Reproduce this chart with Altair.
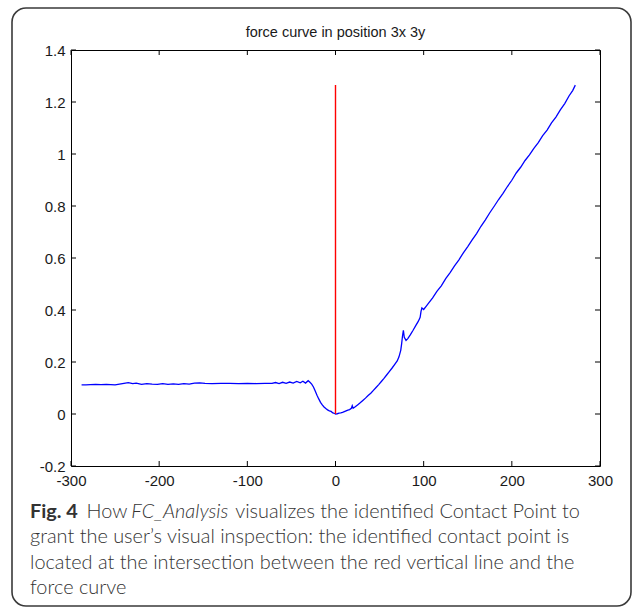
import altair as alt
import pandas as pd

# ---- data ----
curve_x = [-288, -283, -278, -272, -266, -260, -255, -250, -245, -240, -235, -230, -226,
           -220, -214, -208, -202, -196, -190, -184, -178, -172, -166, -160, -154, -148,
           -140, -130, -120, -110, -100, -90, -80, -72, -68, -64, -60, -56, -52, -48, -44,
           -40, -37, -34, -31, -29, -27, -25, -23, -21, -19, -17, -15, -13, -11, -9, -7,
           -5, -3, -1, 0, 2, 4, 6, 8, 10, 12, 14, 16, 18, 19, 20, 22, 25, 28, 31, 34, 37,
           40, 43, 46, 49, 52, 55, 58, 61, 64, 67, 70, 72, 74, 75, 76, 77, 78, 80, 82, 85,
           88, 91, 94, 96, 97, 98, 100, 103, 106, 110, 115, 120, 125, 130, 135, 140, 145,
           150, 155, 160, 165, 170, 175, 180, 185, 190, 195, 200, 205, 210, 215, 220, 225,
           230, 235, 240, 245, 250, 255, 260, 265, 269, 272]
curve_y = [0.112, 0.112, 0.113, 0.114, 0.113, 0.114, 0.113, 0.112, 0.115, 0.118, 0.121, 0.117, 0.119,
           0.114, 0.117, 0.115, 0.114, 0.117, 0.114, 0.116, 0.114, 0.117, 0.115, 0.119, 0.120, 0.118,
           0.117, 0.118, 0.118, 0.117, 0.118, 0.117, 0.118, 0.118, 0.121, 0.117, 0.122, 0.118, 0.123, 0.119, 0.125,
           0.120, 0.126, 0.119, 0.128, 0.122, 0.115, 0.104, 0.088, 0.072, 0.058, 0.045, 0.035, 0.027, 0.021, 0.016, 0.012,
           0.010, 0.004, 0.002, 0.000, 0.001, 0.003, 0.004, 0.006, 0.009, 0.012, 0.015, 0.017, 0.022, 0.032, 0.022, 0.027, 0.035, 0.043, 0.052, 0.061, 0.071,
           0.080, 0.091, 0.102, 0.113, 0.125, 0.137, 0.150, 0.163, 0.176, 0.190, 0.204, 0.220, 0.245, 0.270, 0.300, 0.322, 0.295, 0.283, 0.290, 0.305,
           0.322, 0.340, 0.357, 0.372, 0.395, 0.408, 0.402, 0.415, 0.428, 0.446, 0.472, 0.493, 0.521, 0.544, 0.570, 0.593, 0.620,
           0.644, 0.670, 0.694, 0.722, 0.747, 0.774, 0.799, 0.825, 0.849, 0.875, 0.899, 0.927, 0.949, 0.975, 0.997, 1.022,
           1.044, 1.071, 1.092, 1.120, 1.142, 1.170, 1.194, 1.224, 1.244, 1.265]

contact_x = [0]
contact_y_low = [0.0]
contact_y_high = [1.265]

x_ticks = [-300, -200, -100, 0, 100, 200, 300]
y_ticks = [-0.2, 0, 0.2, 0.4, 0.6, 0.8, 1.0, 1.2, 1.4]

title_text = ["force curve in position 3x 3y"]
cap_bold = ["Fig. 4"]
cap_how = ["How"]
cap_italic = ["FC_Analysis"]
cap_rest1 = ["visualizes the identified Contact Point to"]
cap_lines = ["grant the user\u2019s visual inspection: the identified contact point is",
             "located at the intersection between the red vertical line and the",
             "force curve"]

W, H = 529, 416
LEFT, TOP = 71, 50

curve_df = pd.DataFrame({"x": curve_x, "y": curve_y})
red_df = pd.DataFrame({"x": contact_x, "y0": contact_y_low, "y1": contact_y_high})
xt_df = pd.DataFrame({"v": x_ticks})
yt_df = pd.DataFrame({"v": y_ticks})

xscale = alt.Scale(domain=[-300, 300], nice=False, zero=False)
yscale = alt.Scale(domain=[-0.2, 1.4], nice=False, zero=False)

lab_font = "Liberation Sans"
lab_size = 15
x_axis = alt.Axis(values=x_ticks, title=None, ticks=False, domain=False, grid=False,
                  labelFont=lab_font, labelFontSize=lab_size, labelColor="#1a1a1a",
                  labelPadding=7, labelExpr="datum.value + ''", labelFlush=False, labelOverlap=False)
y_axis = alt.Axis(values=y_ticks, title=None, ticks=False, domain=False, grid=False,
                  labelFont=lab_font, labelFontSize=lab_size, labelColor="#1a1a1a",
                  labelPadding=6, labelExpr="datum.value + ''", labelFlush=False, labelOverlap=False)

line = alt.Chart(curve_df).mark_line(color="#0000ff", strokeWidth=1.3).encode(
    x=alt.X("x:Q", scale=xscale, axis=x_axis),
    y=alt.Y("y:Q", scale=yscale, axis=y_axis),
)

red = alt.Chart(red_df).mark_rule(color="#ff0000", strokeWidth=1.4).encode(
    x=alt.X("x:Q", scale=xscale), y=alt.Y("y0:Q", scale=yscale), y2="y1:Q"
)

tk = dict(color="#000000", strokeWidth=1)
xt_bottom = alt.Chart(xt_df).mark_rule(**tk).encode(
    x=alt.X("v:Q", scale=xscale), y=alt.value(H), y2=alt.value(H - 5))
xt_top = alt.Chart(xt_df).mark_rule(**tk).encode(
    x=alt.X("v:Q", scale=xscale), y=alt.value(0), y2=alt.value(5))
yt_left = alt.Chart(yt_df).mark_rule(**tk).encode(
    y=alt.Y("v:Q", scale=yscale), x=alt.value(0), x2=alt.value(5))
yt_right = alt.Chart(yt_df).mark_rule(**tk).encode(
    y=alt.Y("v:Q", scale=yscale), x=alt.value(W), x2=alt.value(W - 5))

title = alt.Chart(pd.DataFrame({"t": title_text})).mark_text(
    align="center", baseline="middle", font=lab_font, fontSize=14.5, color="#1a1a1a"
).encode(text="t:N", x=alt.value(W / 2), y=alt.value(-17))

# rounded figure frame
frame = alt.Chart(pd.DataFrame({"k": [0]})).mark_rect(
    fill="transparent", stroke="#3a3a3a", strokeWidth=1.6, cornerRadius=14
).encode(x=alt.value(12 - LEFT), x2=alt.value(631 - LEFT),
         y=alt.value(8 - TOP), y2=alt.value(606 - TOP))

cap_font = "Lato"
cap_size = 19.9
cap_color = "#333333"

def cap(texts, x_abs, y_abs, weight=300, style="normal"):
    return alt.Chart(pd.DataFrame({"t": texts})).mark_text(
        align="left", baseline="middle", font=cap_font, fontSize=cap_size,
        fontWeight=weight, fontStyle=style, color=cap_color
    ).encode(text="t:N", x=alt.value(x_abs - LEFT), y=alt.value(y_abs - TOP))

line1_y = 511.5
gap = 25.6
caps = [
    cap(cap_bold, 30, line1_y, weight="bold"),
    cap(cap_how, 86.5, line1_y),
    cap(cap_italic, 131.3, line1_y, style="italic"),
    cap(cap_rest1, 235.2, line1_y),
    cap([cap_lines[0]], 30, line1_y + gap),
    cap([cap_lines[1]], 30, line1_y + 2 * gap),
    cap([cap_lines[2]], 30, line1_y + 3 * gap),
]

chart = alt.layer(line, red, xt_bottom, xt_top, yt_left, yt_right, title, frame, *caps).properties(
    width=W, height=H,
    autosize=alt.AutoSizeParams(type="none"),
    padding={"left": LEFT, "top": TOP, "right": 633 - LEFT - W, "bottom": 607 - TOP - H},
    background="white",
).configure_view(stroke="#000000", strokeWidth=1)

chart.save("out.html", embed_options={"renderer": "svg", "actions": False})
